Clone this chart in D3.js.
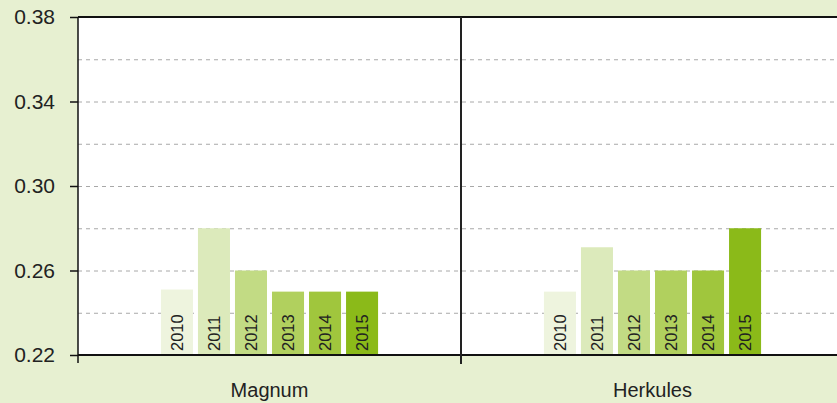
<!DOCTYPE html>
<html>
<head>
<meta charset="utf-8">
<script src="https://cdn.jsdelivr.net/npm/d3@7"></script>
<style>
  html, body { margin: 0; padding: 0; background: #e7f0d1; }
  svg { display: block; font-family: "Liberation Sans", Arial, sans-serif; }
</style>
</head>
<body>
<div id="chart"></div>
<script>
// data
var groups = ["Magnum", "Herkules"];
var years = ["2010", "2011", "2012", "2013", "2014", "2015"];
var magnum = [0.251, 0.28, 0.26, 0.25, 0.25, 0.25];
var herkules = [0.25, 0.271, 0.26, 0.26, 0.26, 0.28];
var yTicks = [0.22, 0.26, 0.30, 0.34, 0.38];
var yGrid = [0.24, 0.26, 0.28, 0.30, 0.32, 0.34, 0.36];
var colors = ["#eef4de", "#dceabb", "#c2db84", "#b1d05e", "#a0c63d", "#8bba19"];

var series = { "Magnum": magnum, "Herkules": herkules };

var W = 837, H = 403;
var plotL = 78, plotT = 17, plotB = 355, plotR = 844;

var svg = d3.select("#chart").append("svg")
    .attr("width", W)
    .attr("height", H);

var y = d3.scaleLinear().domain([0.22, 0.38]).range([plotB, plotT]);
var x0 = d3.scaleBand().domain(groups).range([plotL, plotR]).padding(0);
var x1 = d3.scaleBand().domain(years).range([0, x0.bandwidth()])
    .paddingInner(0.135).paddingOuter(2.24);
var color = d3.scaleOrdinal(years, colors);

// plot background
svg.append("rect")
    .attr("x", plotL).attr("y", plotT)
    .attr("width", plotR - plotL).attr("height", plotB - plotT)
    .attr("fill", "#fff");

// grid
svg.append("g").selectAll("line")
    .data(yGrid)
    .enter().append("line")
    .attr("x1", plotL).attr("x2", plotR)
    .attr("y1", function(d) { return y(d) + 0.5; })
    .attr("y2", function(d) { return y(d) + 0.5; })
    .attr("stroke", "#a8a8a8")
    .attr("stroke-width", 1)
    .attr("stroke-dasharray", "4,4");

// bars
var grp = svg.append("g").selectAll("g")
    .data(groups)
    .enter().append("g")
    .attr("transform", function(d) { return "translate(" + x0(d) + ",0)"; });

var bar = grp.selectAll("g")
    .data(function(g) { return years.map(function(yr, i) { return { year: yr, value: series[g][i] }; }); })
    .enter().append("g");

bar.append("rect")
    .attr("x", function(d) { return x1(d.year); })
    .attr("width", x1.bandwidth())
    .attr("y", function(d) { return y(d.value); })
    .attr("height", function(d) { return plotB - y(d.value); })
    .attr("fill", function(d) { return color(d.year); });

bar.append("text")
    .attr("transform", function(d) {
      return "translate(" + (x1(d.year) + x1.bandwidth() / 2) + "," + (plotB - 4) + ") rotate(-90)";
    })
    .attr("dy", "0.35em")
    .attr("font-size", "16.5px")
    .attr("fill", "#222")
    .text(function(d) { return d.year; });

// y axis
var yAxis = d3.axisLeft(y).tickValues(yTicks).tickSize(8).tickPadding(15)
    .tickFormat(d3.format(".2f"));
var ya = svg.append("g").attr("transform", "translate(" + plotL + ",0)").call(yAxis);
ya.select(".domain").remove();
ya.selectAll("line").attr("stroke", "#111").attr("stroke-width", 1.5);
ya.selectAll("text").attr("font-size", "21px").attr("fill", "#222")
    .attr("font-family", "'Liberation Sans', Arial, sans-serif");

// x axis
var xa = svg.append("g").attr("transform", "translate(0," + plotB + ")")
    .call(d3.axisBottom(x0).tickSize(0).tickPadding(28));
xa.select(".domain").remove();
xa.selectAll("text").attr("font-size", "20px").attr("fill", "#222")
    .attr("font-family", "'Liberation Sans', Arial, sans-serif");

// frame lines
svg.append("line").attr("x1", plotL).attr("x2", plotR).attr("y1", plotT).attr("y2", plotT)
    .attr("stroke", "#111").attr("stroke-width", 2);
svg.append("line").attr("x1", plotL).attr("x2", plotR).attr("y1", plotB).attr("y2", plotB)
    .attr("stroke", "#111").attr("stroke-width", 2);
svg.append("line").attr("x1", plotL).attr("x2", plotL).attr("y1", plotT).attr("y2", plotB + 8)
    .attr("stroke", "#111").attr("stroke-width", 1.5);
svg.append("line").attr("x1", x0("Herkules")).attr("x2", x0("Herkules"))
    .attr("y1", plotT).attr("y2", plotB + 9)
    .attr("stroke", "#222").attr("stroke-width", 2);
</script>
</body>
</html>
